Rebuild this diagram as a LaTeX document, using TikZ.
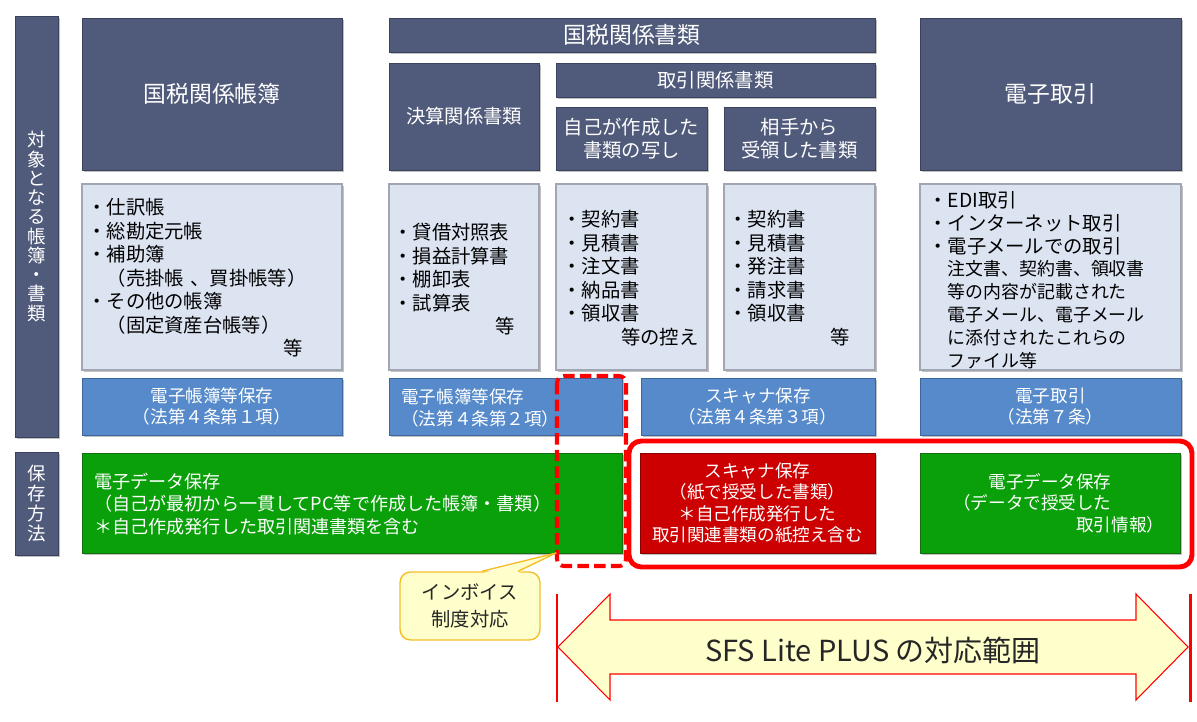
\documentclass[tikz,border=0pt]{standalone}
\usepackage{fontspec}
\setmainfont{Noto Sans CJK JP}
\usetikzlibrary{shadows,calc}
\definecolor{hdr}{RGB}{80,90,122}
\definecolor{hdrline}{RGB}{58,66,92}
\definecolor{lite}{RGB}{220,228,242}
\definecolor{liteline}{RGB}{160,166,180}
\definecolor{blu}{RGB}{86,138,202}
\definecolor{bluline}{RGB}{62,102,158}
\definecolor{grn}{RGB}{10,160,10}
\definecolor{grnline}{RGB}{20,110,20}
\definecolor{rbox}{RGB}{204,0,0}
\definecolor{rboxline}{RGB}{140,0,0}
\definecolor{rline}{RGB}{255,0,0}
\definecolor{cfill}{RGB}{255,255,204}
\definecolor{cline}{RGB}{245,190,40}
\newcommand\pbox[7]{\node[#2, minimum width={(#5-#3)*0.02cm}, minimum height={(#6-#4)*0.02cm}] (#1) at ({(#3+#5)/2},{(#4+#6)/2}) {#7};}
\newcommand\rline[1]{\leavevmode\hfill #1}
\begin{document}
\begin{tikzpicture}[x=0.02cm,y=-0.02cm,
 base/.style={inner sep=0pt,outer sep=0pt,drop shadow={shadow xshift=1.3pt,shadow yshift=-1.3pt,opacity=0.35,fill=black!70}},
 hdrbox/.style={base,fill=hdr,draw=hdrline,line width=0.5pt,text=white,align=center},
 bigf/.style={font=\fontsize{13}{15}\selectfont},
 subf/.style={font=\fontsize{11}{13}\selectfont},
 vf/.style={font=\fontsize{10.5}{10.95}\selectfont},
 litebox/.style={base,fill=lite,draw=liteline,line width=0.6pt},
 listtxt/.style={inner sep=0pt,anchor=west,align=left,font=\fontsize{11}{13.4}\selectfont,text=black},
 blubox/.style={base,fill=blu,draw=bluline,line width=0.5pt,text=white,align=center,font=\fontsize{10}{12.4}\selectfont},
 grnbox/.style={base,fill=grn,draw=grnline,line width=0.5pt},
 redbox/.style={base,fill=rbox,draw=rboxline,line width=0.5pt},
 wtxt/.style={inner sep=0pt,text=white,font=\fontsize{10}{12.3}\selectfont},
]
\useasboundingbox (0,0) rectangle (1197,722);
% left vertical labels
\pbox{vbar1}{hdrbox,vf}{15}{16}{58}{437}{対\\象\\と\\な\\る\\帳\\簿\\・\\書\\類}
\pbox{vbar2}{hdrbox,font=\fontsize{10.5}{11.3}\selectfont}{15}{452}{58}{555}{保\\存\\方\\法}
% headers
\pbox{kzc}{hdrbox,bigf}{82}{18}{342}{170}{国税関係帳簿}
\pbox{kzs}{hdrbox,bigf}{389}{18}{875}{52}{国税関係書類}
\pbox{kessan}{hdrbox,subf}{389}{63}{539}{170}{決算関係書類}
\pbox{torihiki}{hdrbox,subf}{556}{63}{875}{97}{取引関係書類}
\pbox{jiko}{hdrbox,subf}{556}{107}{707}{170}{自己が作成した\\書類の写し}
\pbox{aite}{hdrbox,subf}{724}{107}{875}{170}{相手から\\受領した書類}
\pbox{denshi}{hdrbox,bigf}{920}{18}{1181}{170}{電子取引}
% light list boxes
\pbox{l1}{litebox}{82}{184}{342}{370}{}
\pbox{l2}{litebox}{389}{184}{539}{370}{}
\pbox{l3}{litebox}{556}{184}{707}{370}{}
\pbox{l4}{litebox}{724}{184}{875}{370}{}
\pbox{l5}{litebox}{920}{184}{1181}{370}{}
\node[listtxt,text width=4.32cm] (l1t) at (87,278) {・仕訳帳\\・総勘定元帳\\・補助簿\\\hphantom{・}（売掛帳~、買掛帳等）\\・その他の帳簿\\\hphantom{・}（固定資産台帳等）\\\rline{等}};
\node[listtxt,text width=2.42cm] (l2t) at (393,279.5) {・貸借対照表\\・損益計算書\\・棚卸表\\・試算表\\\rline{等}};
\node[listtxt,text width=2.72cm] (l3t) at (562,278) {・契約書\\・見積書\\・注文書\\・納品書\\・領収書\\\rline{等の控え}};
\node[listtxt,text width=2.42cm] (l4t) at (728,278) {・契約書\\・見積書\\・発注書\\・請求書\\・領収書\\\rline{等}};
\node[listtxt,text width=5cm,font=\fontsize{11}{12.98}\selectfont] (l5t) at (928,280) {・EDI取引\\・インターネット取引\\・電子メールでの取引\\\hspace*{11pt}{\fontsize{10.2}{12.98}\selectfont 注文書、契約書、領収書}\\\hspace*{11pt}{\fontsize{10.2}{12.98}\selectfont 等の内容が記載された}\\\hspace*{11pt}{\fontsize{10.2}{12.98}\selectfont 電子メール、電子メール}\\\hspace*{11pt}{\fontsize{10.2}{12.98}\selectfont に添付されたこれらの}\\\hspace*{11pt}{\fontsize{10.2}{12.98}\selectfont ファイル等}};
% blue law boxes
\pbox{b1}{blubox}{82}{378}{342}{435}{電子帳簿等保存\\（法第４条第１項）}
\pbox{b2}{blubox}{389}{378}{622}{435}{}
\node[inner sep=0pt,text=white,anchor=west,align=left,font=\fontsize{10}{12.4}\selectfont] (b2t) at (401,408) {電子帳簿等保存\\（法第４条第２項）};
\pbox{b3}{blubox}{641}{378}{875}{435}{スキャナ保存\\（法第４条第３項）}
\pbox{b4}{blubox}{920}{378}{1181}{435}{電子取引\\（法第７条）}
% storage methods
\pbox{g1}{grnbox}{82}{453}{622}{553}{}
\node[wtxt,anchor=west,align=left,font=\fontsize{10.3}{12.7}\selectfont] (g1t) at (94,504) {電子データ保存\\（自己が最初から一貫してPC等で作成した帳簿・書類）\\＊自己作成発行した取引関連書類を含む};
\pbox{r1}{redbox,wtxt,align=center}{640}{453}{875}{553}{スキャナ保存\\（紙で授受した書類）\\＊自己作成発行した\\取引関連書類の紙控え含む}
\pbox{g2}{grnbox,wtxt,align=center}{920}{453}{1180}{553}{電子データ保存\\（データで授受した\hphantom{国国}\\\hphantom{国国国国国国国国}取引情報）}
% highlight frames
\draw[rline,line width=2.3pt,dash pattern=on 6.5pt off 3pt,rounded corners=4pt] (557,376) rectangle (626,566);
\draw[rline,line width=2.8pt,rounded corners=7pt] (629,441) rectangle (1192,567);
% callout
\node[draw=cline,fill=cfill,rounded corners=6pt,line width=0.8pt,minimum width=2.8cm,minimum height=1.36cm,inner sep=0pt,align=center,font=\fontsize{11}{15.5}\selectfont,text=black!85] (inv) at (470,606) {インボイス\\制度対応};
\coordinate (invtip) at (556,553);
\fill[cfill] ($(inv.north)+(12.5,2)$) -- (invtip) -- ($(inv.north)+(47.5,2)$) -- cycle;
\draw[cline,line width=0.8pt,line join=round] ($(inv.north)+(12,0)$) -- (invtip) -- ($(inv.north)+(48,0)$);
% range arrow
\draw[rline,line width=1.7pt] (557,594) -- (557,702);
\draw[rline,line width=1.7pt] (1190,594) -- (1190,702);
\draw[rline,line width=0.6pt,fill=cfill] (558,647) -- (610,594) -- (610,620) -- (1136,620) -- (1136,594) -- (1188,647) -- (1136,700) -- (1136,674) -- (610,674) -- (610,700) -- cycle;
\node[inner sep=0pt,font=\fontsize{16.5}{19}\selectfont,text=black!85] (sfs) at (873,650) {SFS Lite PLUS の対応範囲};
\end{tikzpicture}
\end{document}
